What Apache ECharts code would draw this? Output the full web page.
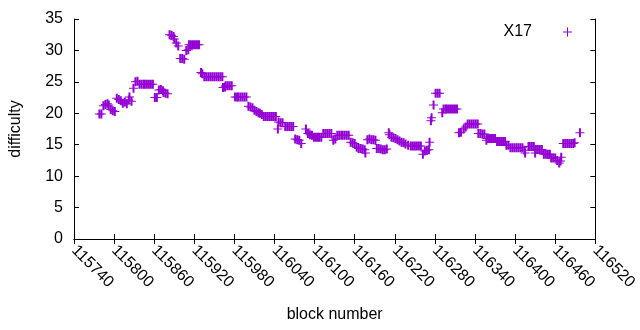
<!DOCTYPE html>
<html>
<head>
<meta charset="utf-8">
<script src="https://cdn.jsdelivr.net/npm/echarts@6/dist/echarts.min.js"></script>
<style>
  html, body { margin: 0; padding: 0; background: #fff; }
  #chart { width: 640px; height: 330px; }
</style>
</head>
<body>
<div id="chart"></div>
<script>
// block numbers and difficulty
var blocks = [
    115778, 115781, 115784, 115787, 115790, 115792, 115795, 115798, 115801,
    115804, 115807, 115810, 115813, 115816, 115819, 115822, 115823, 115826,
    115829, 115832, 115835, 115838, 115841, 115844, 115846, 115849, 115852,
    115855, 115858, 115861, 115864, 115867, 115870, 115873, 115874, 115877,
    115880, 115883, 115886, 115889, 115890, 115893, 115896, 115899, 115902,
    115905, 115908, 115911, 115912, 115915, 115918, 115921, 115924, 115927,
    115930, 115932, 115935, 115938, 115941, 115944, 115947, 115950, 115953,
    115956, 115959, 115962, 115963, 115966, 115967, 115970, 115973, 115976,
    115981, 115984, 115986, 115989, 115992, 115995, 115998, 116001, 116004,
    116007, 116010, 116013, 116016, 116018, 116021, 116024, 116027, 116030,
    116033, 116036, 116039, 116042, 116045, 116046, 116049, 116052, 116056,
    116059, 116062, 116065, 116068, 116071, 116074, 116077, 116080, 116087,
    116090, 116093, 116096, 116099, 116102, 116105, 116107, 116110, 116113,
    116116, 116119, 116122, 116125, 116128, 116131, 116134, 116137, 116140,
    116142, 116145, 116148, 116151, 116154, 116157, 116160, 116163, 116166,
    116169, 116172, 116175, 116176, 116179, 116182, 116185, 116188, 116191,
    116193, 116196, 116199, 116202, 116205, 116208, 116211, 116212, 116215,
    116218, 116221, 116224, 116227, 116230, 116233, 116236, 116240, 116244,
    116247, 116250, 116253, 116256, 116259, 116262, 116265, 116268, 116271,
    116272, 116274, 116275, 116278, 116281, 116284, 116287, 116291, 116293,
    116296, 116298, 116301, 116304, 116307, 116310, 116313, 116316, 116319,
    116323, 116326, 116329, 116332, 116335, 116338, 116341, 116344, 116345,
    116348, 116351, 116354, 116357, 116358, 116361, 116364, 116367, 116370,
    116373, 116376, 116379, 116382, 116385, 116387, 116390, 116393, 116396,
    116399, 116402, 116405, 116408, 116411, 116414, 116415, 116420, 116422,
    116425, 116428, 116430, 116431, 116434, 116437, 116440, 116443, 116446,
    116449, 116452, 116454, 116457, 116460, 116463, 116466, 116468, 116469,
    116472, 116475, 116478, 116481, 116484, 116487, 116489, 116497
];
var difficulty = [
    19.9, 19.9, 21.2, 21.4, 21.5, 21.3, 20.6, 20.4, 20.3,
    22.4, 22.2, 22.0, 21.6, 21.8, 21.5, 22.1, 22.6, 21.9,
    24.0, 25.0, 25.1, 24.6, 24.6, 24.6, 24.6, 24.6, 24.6,
    24.6, 24.6, 22.5, 22.5, 23.7, 23.8, 23.6, 23.3, 23.2,
    23.1, 32.5, 32.4, 32.2, 31.8, 31.2, 30.7, 28.7, 28.7,
    28.6, 30.0, 30.1, 30.9, 30.9, 30.9, 30.9, 30.9, 30.9,
    26.5, 26.3, 25.8, 25.8, 25.8, 25.8, 25.8, 25.8, 25.8,
    25.8, 25.8, 25.8, 24.1, 24.2, 24.4, 24.4, 24.4, 24.4,
    22.6, 22.6, 22.6, 22.6, 22.6, 22.6, 22.6, 21.1, 21.0,
    20.9, 20.5, 20.3, 20.1, 20.0, 19.8, 19.5, 19.5, 19.5,
    19.5, 19.5, 19.5, 19.5, 17.5, 18.6, 18.5, 18.5, 17.9,
    17.9, 17.9, 17.9, 17.9, 15.9, 15.8, 15.7, 15.2, 17.5,
    16.8, 16.6, 16.5, 16.2, 16.2, 16.2, 16.2, 16.2, 16.8,
    16.8, 16.8, 16.8, 16.8, 15.7, 15.9, 16.5, 16.5, 16.5,
    16.5, 16.5, 16.5, 16.5, 15.4, 15.3, 15.2, 14.6, 14.4,
    14.4, 14.3, 14.2, 13.7, 15.8, 15.9, 15.8, 15.8, 15.7,
    14.4, 14.4, 14.3, 14.2, 14.2, 14.3, 16.9, 16.6, 16.2,
    16.1, 16.0, 15.8, 15.6, 15.4, 15.3, 15.1, 14.9, 14.8,
    14.8, 14.8, 14.8, 14.8, 14.8, 13.5, 14.0, 14.1, 14.2,
    15.4, 18.8, 19.3, 21.3, 23.2, 23.2, 23.2, 20.1, 20.7,
    20.7, 20.7, 20.7, 20.7, 20.7, 20.7, 20.7, 16.9, 17.0,
    17.5, 17.8, 18.3, 18.3, 18.3, 18.3, 18.3, 18.3, 16.8,
    16.8, 16.7, 16.7, 15.7, 16.0, 16.0, 16.0, 16.0, 16.0,
    15.5, 15.5, 15.5, 15.5, 15.5, 14.9, 14.9, 14.5, 14.5,
    14.5, 14.5, 14.5, 14.5, 14.5, 14.1, 13.7, 14.7, 14.7,
    14.7, 14.7, 13.7, 14.25, 14.25, 14.25, 14.25, 13.5, 13.5,
    13.5, 13.5, 12.9, 12.9, 12.9, 12.5, 12.1, 12.4, 13.0,
    15.2, 15.2, 15.2, 15.2, 15.2, 15.2, 15.3, 16.9
];

var seriesName = 'X17';
var xMin = 115740, xMax = 116520, xStep = 60;
var yMin = 0, yMax = 35, yStep = 5;

// gnuplot style "+" marker (vertical arm a bit wider so runs look solid)
var plusMark = 'path://M3.5,0H5.5V4H9V5H5.5V9H3.5V5H0V4H3.5Z';
var legendMark = 'path://M4,0H5V4H9V5H5V9H4V5H0V4H4Z';
var purple = '#9400d3';
var font = 'Liberation Sans';

var points = [];
for (var i = 0; i < blocks.length; i++) {
    points.push([blocks[i], difficulty[i]]);
}

var chart = echarts.init(document.getElementById('chart'), null, {renderer: 'canvas'});

var axisLine = {show: true, lineStyle: {color: '#000', width: 1}};
var tickIn = {show: true, inside: true, length: 5, lineStyle: {color: '#000'}};
var plain = function (v) { return String(v); };

chart.setOption({
    animation: false,
    backgroundColor: '#fff',
    textStyle: {fontFamily: font},
    grid: {left: 74, right: 31, top: 19, bottom: 91},
    legend: {
        data: [{name: seriesName, icon: legendMark}],
        right: 63,
        top: 19,
        align: 'right',
        itemWidth: 9,
        itemHeight: 9,
        itemStyle: {color: purple},
        textStyle: {fontFamily: font, fontSize: 16, color: '#000', padding: [0, 26, 0, 0]}
    },
    xAxis: [{
        type: 'value',
        min: xMin, max: xMax, interval: xStep,
        axisLine: axisLine,
        axisTick: tickIn,
        splitLine: {show: false},
        axisLabel: {
            rotate: -45, margin: 9, color: '#000',
            fontFamily: font, fontSize: 16, showMaxLabel: true,
            formatter: plain
        },
        name: 'block number',
        nameLocation: 'middle',
        nameGap: 68,
        nameTextStyle: {fontFamily: font, fontSize: 16, color: '#000'}
    }, {
        type: 'value', position: 'top',
        min: xMin, max: xMax, interval: xStep,
        axisLine: axisLine, axisTick: tickIn,
        axisLabel: {show: false}, splitLine: {show: false}
    }],
    yAxis: [{
        type: 'value',
        min: yMin, max: yMax, interval: yStep,
        axisLine: axisLine,
        axisTick: tickIn,
        splitLine: {show: false},
        axisLabel: {margin: 11, color: '#000', fontFamily: font, fontSize: 16, formatter: plain},
        name: 'difficulty',
        nameLocation: 'middle',
        nameGap: 50,
        nameTextStyle: {fontFamily: font, fontSize: 16, color: '#000'}
    }, {
        type: 'value', position: 'right',
        min: yMin, max: yMax, interval: yStep,
        axisLine: axisLine, axisTick: tickIn,
        axisLabel: {show: false}, splitLine: {show: false}
    }],
    series: [{
        name: seriesName,
        type: 'scatter',
        symbol: plusMark,
        symbolSize: 9,
        itemStyle: {color: purple, opacity: 1},
        data: points
    }]
});
</script>
</body>
</html>
